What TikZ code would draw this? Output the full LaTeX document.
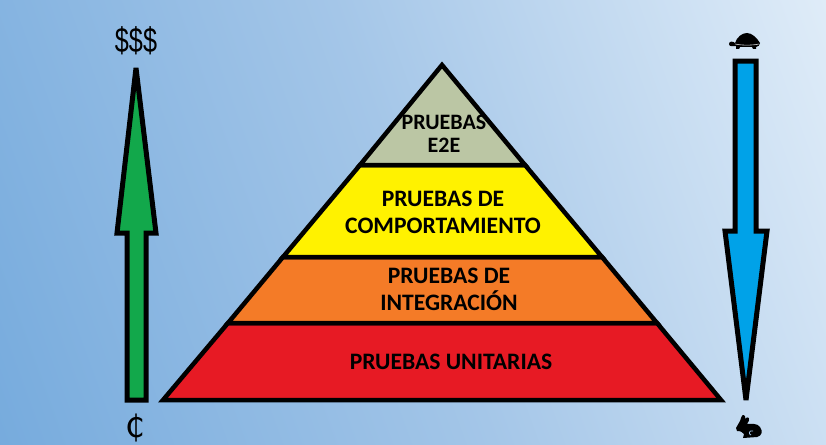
\documentclass[tikz,border=0pt]{standalone}
\usepackage{fontspec}
\setmainfont{Carlito}
\newfontfamily\symfont{DejaVu Sans}
\newfontfamily\dollarfont{Liberation Sans}
\definecolor{bgA}{HTML}{6EA6DB}
\definecolor{bgM}{HTML}{A4C6E8}
\definecolor{bgB}{HTML}{EAF3FB}
\definecolor{layerA}{HTML}{BBC6A4}
\definecolor{layerB}{HTML}{FFF200}
\definecolor{layerC}{HTML}{F47B27}
\definecolor{layerD}{HTML}{E71A24}
\definecolor{arrowG}{HTML}{12A84B}
\definecolor{arrowB}{HTML}{00A2E8}
\tikzset{
  x=1pt,y=-1pt,
  outline/.style={draw=black,line width=4.5pt,line join=miter,miter limit=10},
  arrowline/.style={draw=black,line width=5pt,line join=miter,miter limit=3},
  label/.style={font=\fontsize{23.6}{27}\selectfont\bfseries,align=center,text=black,inner sep=0pt},
  toplabel/.style={font=\fontsize{22}{23}\selectfont\bfseries,align=center,text=black,inner sep=0pt},
  money/.style={inner sep=0pt,text=black}
}
\begin{document}
\begin{tikzpicture}
\useasboundingbox (0,0) rectangle (826,444);
\clip (0,0) rectangle (826,444);
\shade[top color=bgB,bottom color=bgA,middle color=bgM,shading angle=-70] (-120,-380) rectangle (946,824);
% pyramid layers
\path[outline,fill=layerD] (228,323) -- (657,323) -- (721,400) -- (163,400) -- cycle;
\path[outline,fill=layerC] (283,257) -- (602,257) -- (657,323) -- (228,323) -- cycle;
\path[outline,fill=layerB] (360,165) -- (525,165) -- (602,257) -- (283,257) -- cycle;
\path[outline,fill=layerA] (442,65) -- (525,165) -- (360,165) -- cycle;
% arrows
\path[arrowline,fill=arrowG] (136,68) -- (156,233) -- (146,233) -- (146,400) -- (127,400) -- (127,233) -- (117,233) -- cycle;
\path[arrowline,fill=arrowB] (735,61) -- (756,61) -- (756,231) -- (767,231) -- (746,400) -- (725,231) -- (735,231) -- cycle;
% labels
\node[toplabel] (e2e) at (444,134) {PRUEBAS\\E2E};
\node[label] (comp) at (443,212) {PRUEBAS DE\\COMPORTAMIENTO};
\node[label] (integ) at (449,289) {PRUEBAS DE\\INTEGRACIÓN};
\node[label] (unit) at (451,362) {PRUEBAS UNITARIAS};
\node[money,font=\dollarfont\fontsize{35}{38}\selectfont,xscale=0.72] (dollars) at (136,41) {\$\$\$};
\node[money,font=\symfont\fontsize{31}{34}\selectfont] (cent) at (135,428) {₵};
% turtle
\fill[black] (729,44) .. controls (729,41) and (733,41) .. (735,43) .. controls (737,37) and (742,33) .. (747,33) .. controls (752,33) and (757,38) .. (760,43) .. controls (760,45) and (758,47) .. (756,47) -- (756,49) -- (753,49) -- (752,47) -- (740,47) -- (739,49) -- (736,49) -- (736,46) .. controls (733,46) and (729,47) .. (729,44) -- cycle;
\draw[bgB!60!black!40,line width=0.6pt] (735,44) .. controls (742,45.5) and (752,45.5) .. (759,44);
% rabbit
\fill[black] (736,428) .. controls (737,425) and (739,424) .. (740,421) .. controls (741,418) and (742,414) .. (744,415) .. controls (746,416) and (745,418) .. (745,419) .. controls (746,417) and (748,417) .. (749,418) .. controls (750,420) and (748,422) .. (747,424) .. controls (752,424) and (757,423) .. (760,427) .. controls (763,431) and (762,436) .. (757,437) -- (743,438) -- (744,434) .. controls (742,432) and (741,431) .. (737,431) -- cycle;
\draw[bgM,line width=0.8pt] (753,431) .. controls (749,430) and (748,434) .. (751,435);
\end{tikzpicture}
\end{document}
